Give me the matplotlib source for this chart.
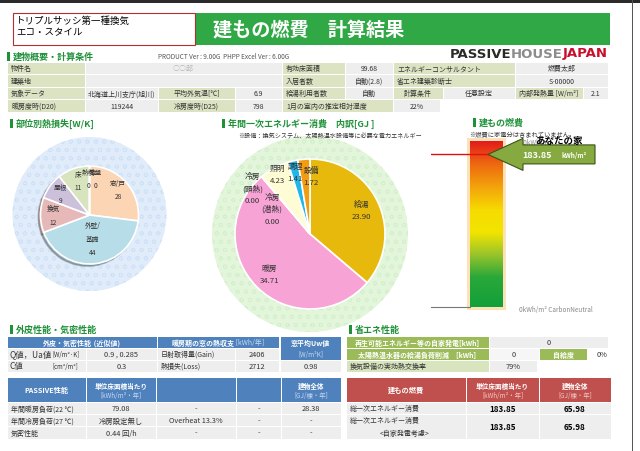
import numpy as np
import matplotlib
matplotlib.use('Agg')
import matplotlib.pyplot as plt
from matplotlib.patches import Rectangle, Circle, Polygon
from matplotlib.colors import LinearSegmentedColormap

plt.rcParams['font.family'] = ['Noto Sans CJK JP', 'DejaVu Sans']
plt.rcParams['hatch.linewidth'] = 0.6

# ---------------- data ----------------
title_left = ['トリプルサッシ第一種換気', 'エコ・スタイル']
title = '建もの燃費　計算結果'
version = 'PRODUCT Ver : 9.00G  PHPP Excel Ver : 6.00G'

info_texts = [
    ['物件名', '○○邸', '有効床面積', '99.68', 'エネルギーコンサルタント', '燃費太郎'],
    ['建築地', '', '入居者数', '自動(2.8)', '省エネ建築診断士', 'S-00000'],
    ['気象データ', '北海道上川支庁(旭川)', '平均外気温[℃]', '6.9', '給湯利用者数', '自動',
     '計算条件', '任意設定', '内部発熱量 [W/m²]', '2.1'],
    ['暖房度時(D20)', '119244', '冷房度時(D25)', '798', '1月の室内の推定相対湿度', '22%'],
]

loss_labels = ['窓/戸', '外壁/\n基礎', '換気', '屋根', '床', '熱橋', '地盤']
loss_values = [28, 44, 12, 9, 11, 0, 0]

energy_labels = ['給湯', '暖房', '冷房\n(潜熱)', '冷房\n(顕熱)', '照明', '調理', '設備']
energy_values = [23.90, 34.71, 0.00, 0.00, 4.23, 1.41, 1.72]

fuel_value = 183.85
gauge_max = 200

envelope_rows = [
    ['Q値，Ua値', '[W/m²·K]', '0.9 , 0.285', '日射取得量(Gain)', '2406'],
    ['C値', '[cm²/m²]', '0.3', '熱損失(Loss)', '2712'],
]
uw_value = '0.98'

passive_header = [('PASSIVE性能', ''), ('単位床面積当たり', '[kWh/m²・年]'), ('', ''), ('', ''),
                  ('建物全体', '[GJ/棟・年]')]
passive_rows = [
    ['年間暖房負荷(22 ℃)', '79.08', '-', '-', '28.38'],
    ['年間冷房負荷(27 ℃)', '冷房設定無し', 'Overheat 13.3%', '-', '-'],
    ['気密性能', '0.44 回/h', '-', '-', '-'],
]

saving_labels = ['再生可能エネルギー等の自家発電[kWh]', '太陽熱温水器の給湯負荷削減　[kWh]', '換気設備の実効熱交換率']
saving_values = ['0', '0', '79%']
self_rate = ('自給度', '0%')

fuel_header = [('建もの燃費', ''), ('単位床面積当たり', '[kWh/m²・年]'), ('建物全体', '[GJ/棟・年]')]
fuel_rows = [
    ['総一次エネルギー消費', '183.85', '65.98'],
    ['総一次エネルギー消費', '183.85', '65.98'],
]

# ---------------- colours ----------------
GREEN = '#2fa845'
HEAD_GREEN = '#1f9138'
LABEL = '#dce3c3'
VALUE = '#eeeeee'
BLUE = '#4f81bd'
RED = '#c0504d'
TXT = '#333333'

W, H = 640, 452
fig = plt.figure(figsize=(6.4, 4.52), dpi=100)
bg = fig.add_axes([0, 0, 1, 1])
bg.set_xlim(0, W)
bg.set_ylim(H, 0)
bg.axis('off')
renderer = fig.canvas.get_renderer()


def px_axes(x0, y0, x1, y1):
    return fig.add_axes([x0 / W, 1 - y1 / H, (x1 - x0) / W, (y1 - y0) / H])


def box(x0, y0, x1, y1, fc, ec='none', lw=0, z=1):
    bg.add_patch(Rectangle((x0, y0), x1 - x0, y1 - y0, facecolor=fc, edgecolor=ec, linewidth=lw, zorder=z))


def txt(x, y, s, size=5, color=TXT, ha='center', va='center', weight='normal', z=5):
    return bg.text(x, y, s, fontsize=size, color=color, ha=ha, va=va, fontweight=weight, zorder=z)


def cell(x0, y0, x1, y1, s, fc, color=TXT, size=5, ha='center', weight='normal'):
    box(x0 + 0.5, y0 + 0.5, x1 - 0.5, y1 - 0.5, fc)
    if s:
        tx = (x0 + x1) / 2 if ha == 'center' else x0 + 4
        txt(tx, (y0 + y1) / 2, s, size, color, ha=ha, weight=weight)


def multi(x, y, parts, ha='center'):
    # parts: (text, size, color, weight) put one after another on one line
    ts = [bg.text(0, y, s, fontsize=sz, color=c, va='center', ha='left', fontweight=wt, zorder=5)
          for s, sz, c, wt in parts]
    ws = [t.get_window_extent(renderer).width for t in ts]
    x0 = x - sum(ws) / 2 if ha == 'center' else x
    for t, w in zip(ts, ws):
        t.set_x(x0)
        x0 += w


def section(x, y, s):
    box(x, y - 4.5, x + 3, y + 4.5, HEAD_GREEN)
    txt(x + 6, y, s, 6.5, HEAD_GREEN, ha='left', weight='bold')


# ---------------- page frame and header ----------------
box(0, 0, W, 4, '#2b2b2b')
box(631.5, 0, 633, H, '#555555')
box(13, 14, 195, 46, 'white', ec='#b03030', lw=0.8, z=2)
txt(16, 21, title_left[0], 6.8, 'black', ha='left')
txt(16, 33, title_left[1], 6.8, 'black', ha='left')
box(195, 14, 610, 46, GREEN)
txt(213, 30, title, 13.8, 'white', ha='left', weight='bold')

t1 = bg.text(608, 54, 'JAPAN', fontsize=9.5, color='#c8102e', ha='right', va='center',
             fontweight='bold', family='DejaVu Sans')
w1 = t1.get_window_extent(renderer).width
t2 = bg.text(608 - w1, 54, 'HOUSE', fontsize=9.5, color='#8c8c8c', ha='right', va='center',
             fontweight='bold', family='DejaVu Sans')
w2 = t2.get_window_extent(renderer).width
bg.text(608 - w1 - w2, 54, 'PASSIVE', fontsize=9.5, color='#2a2a2a', ha='right', va='center',
        fontweight='bold', family='DejaVu Sans')

section(7, 57, '建物概要・計算条件')
txt(158, 57, version, 4.6, '#555555', ha='left', z=5)

# ---------------- info table ----------------
info_rows_y = [63, 75.5, 88, 100.5, 113]
wide = [(7, 85, 'L'), (85, 282, 'V'), (282, 345, 'L'), (345, 393, 'V'), (393, 515, 'L'), (515, 608, 'V')]
info_cols = [
    wide, wide,
    [(7, 85, 'L'), (85, 158, 'V'), (158, 235, 'C'), (235, 282, 'V'), (282, 345, 'L'), (345, 393, 'V'),
     (393, 443, 'C'), (443, 515, 'V'), (515, 583, 'C'), (583, 608, 'V')],
    [(7, 85, 'L'), (85, 158, 'V'), (158, 235, 'C'), (235, 282, 'V'), (282, 393, 'L'), (393, 440, 'V')],
]
for r, (texts, cols) in enumerate(zip(info_texts, info_cols)):
    y0, y1 = info_rows_y[r], info_rows_y[r + 1]
    for s, (x0, x1, kind) in zip(texts, cols):
        fc = VALUE if kind == 'V' else LABEL
        col = '#bbbbbb' if (r == 0 and x0 == 85) else TXT
        cell(x0, y0, x1, y1, s, fc, col, 5, ha='left' if kind == 'L' else 'center')

# ---------------- heat loss pie ----------------
section(10, 124, '部位別熱損失[W/K]')
bg.add_patch(Circle((89.5, 215), 77, facecolor='#e0ecfa', edgecolor='#cfe1f6', hatch='oo', linewidth=0, zorder=1))
cx, cy, r = 89.5, 216, 49
ax1 = px_axes(cx - r, cy - r, cx + r, cy + r)
loss_colors = ['#fcd5b4', '#b7dde8', '#e6b9b8', '#ccc0da', '#d7e4bd', '#d7e4bd', '#d7e4bd']
wedges, texts = ax1.pie(loss_values, labels=[f'{a}\n{b}' for a, b in zip(loss_labels, loss_values)],
                        colors=loss_colors, startangle=90, counterclock=False, labeldistance=0.74,
                        wedgeprops=dict(edgecolor='white', linewidth=1.2),
                        textprops=dict(fontsize=4.8, color=TXT, ha='center', va='center', linespacing=1.9),
                        shadow=dict(ox=-0.03, oy=-0.03, shade=0.5))
loss_r = [1.05, 0.66, 1.0, 1.0, 1.0, 1.0, 1.0]
loss_dx = [0, 0, 0, 0, 0, -0.02, 0.12]
for t, k, dx in zip(texts, loss_r, loss_dx):
    x, y = t.get_position()
    t.set_position((x * k + dx, y * k))
ax1.set_xlim(-1, 1)
ax1.set_ylim(-1, 1)
ax1.axis('off')

# ---------------- energy pie ----------------
section(222, 124, '年間一次エネルギー消費　内訳[GJ ]')
txt(238, 136, '※設備：換気システム、太陽熱温水設備等に必要な電力エネルギー', 4.4, TXT, ha='left')
bg.add_patch(Circle((310, 235), 98, facecolor='#e3f6dc', edgecolor='#d3f0ca', hatch='oo', linewidth=0, zorder=1))
cx, cy, r = 310, 235, 75
ax2 = px_axes(cx - r, cy - r, cx + r, cy + r)
energy_colors = ['#e8b90d', '#f7a3d6', '#fdfcd4', '#fdfcd4', '#fdfcd4', '#22b5e8', '#f39c12']
wedges, texts = ax2.pie(energy_values,
                        labels=[f'{a}\n{b:.2f}' for a, b in zip(energy_labels, energy_values)],
                        colors=energy_colors, startangle=90, counterclock=False, labeldistance=0.76,
                        wedgeprops=dict(edgecolor='white', linewidth=1.2),
                        textprops=dict(fontsize=5.6, color=TXT, ha='center', va='center', linespacing=1.6))
# move the crowded small-slice labels off their mid angle, as the original layout does
energy_r = [1.0, 1.0, 0.8, 1.29, 1.2, 1.12, 1.02]
energy_dtheta = [0, 0, 16, 11, 0, 0, -6]
for t, k, dth in zip(texts, energy_r, energy_dtheta):
    x, y = t.get_position()
    rr = np.hypot(x, y) * k
    th = np.arctan2(y, x) + np.radians(dth)
    t.set_position((rr * np.cos(th), rr * np.sin(th)))
ax2.set_xlim(-1, 1)
ax2.set_ylim(-1, 1)
ax2.axis('off')

# ---------------- fuel gauge ----------------
section(473, 123, '建もの燃費')
txt(469, 135, '※燃費に家電分は含まれていません。', 4.5, TXT, ha='left')
gy0, gy1 = 142, 308
ax3 = px_axes(431, gy0, 610, gy1)
ax3.set_xlim(431, 610)
ax3.set_ylim(0, gauge_max)
ax3.axis('off')
k = (gy1 - gy0) / gauge_max
stops = [(0, '#12a03a'), (0.18, '#2aa83a'), (0.32, '#9cc52a'), (0.45, '#f2e400'), (0.58, '#f6dc00'),
         (0.72, '#f3a50c'), (0.86, '#ee6a10'), (1, '#e31b1b')]
cmap = LinearSegmentedColormap.from_list('fuel', stops)
ax3.add_patch(Rectangle((467, -3 / k), 39, gauge_max + 6 / k, facecolor='#fde2b8', edgecolor='none',
                        clip_on=False, zorder=1))
grad = np.linspace(0, 1, 256).reshape(-1, 1)
ax3.imshow(grad, extent=(470, 503, 0, gauge_max), origin='lower', cmap=cmap, aspect='auto', zorder=2)
ax3.set_xlim(431, 610)
ax3.set_ylim(0, gauge_max)
ax3.plot([431, 470], [0, 0], color='#777777', lw=0.8, zorder=3, clip_on=False)
ax3.plot([431, 490], [fuel_value, fuel_value], color='#e01010', lw=1.0, zorder=3)
top_lbl = ax3.text(517, gauge_max - 1 / k, f'{gauge_max}kWh/m²', fontsize=4.6, color='#888888',
                   ha='left', va='center', zorder=3)
# the top scale label is mostly hidden behind "あなたの家" in the original
top_lbl.set_clip_path(Rectangle((505, gauge_max - 8 / k), 29, 16 / k, transform=ax3.transData))
hh, bh = 16 / k, 9.5 / k
arrow = [(488, fuel_value), (523, fuel_value + hh), (523, fuel_value + bh), (595, fuel_value + bh),
         (595, fuel_value - bh), (523, fuel_value - bh), (523, fuel_value - hh)]
ax3.add_patch(Polygon(arrow, closed=True, facecolor='#86a940', edgecolor='#3b5418', linewidth=0.8,
                      zorder=4, clip_on=False))
ax3.text(522, fuel_value, f'{fuel_value:.2f}', fontsize=6.5, color='white', ha='left', va='center',
         fontweight='bold', zorder=5)
ax3.text(562, fuel_value, 'kWh/m²', fontsize=4.6, color='white', ha='left', va='center',
         fontweight='bold', zorder=5)
ax3.text(535, fuel_value + 14 / k, 'あなたの家', fontsize=6.8, color='black', ha='left', va='center',
         fontweight='bold', zorder=6, clip_on=False)
ax3.text(519, -2 / k, '0kWh/m² CarbonNeutral', fontsize=4.6, color='#888888', ha='left', va='center',
         clip_on=False)

# ---------------- envelope tables ----------------
section(10, 330, '外皮性能・気密性能')
hy = [337, 349, 361, 373]
cell(7, hy[0], 157, hy[1], '', BLUE)
multi(82, (hy[0] + hy[1]) / 2, [('外皮・気密性能', 5, 'white', 'bold'), (' (近似値)', 5, 'white', 'bold')])
cell(157, hy[0], 279, hy[1], '', BLUE)
multi(218, (hy[0] + hy[1]) / 2, [('暖房期の窓の熱収支', 5, 'white', 'bold'), (' [kWh/年]', 5, '#c6d9f1', 'normal')])
cell(280, hy[0], 341, hy[2], '', BLUE)
txt(310.5, 343, '窓平均Uw値', 5, 'white', weight='bold')
txt(310.5, 355, '[W/m²K]', 4.6, '#c6d9f1')
env_cols = [(7, 86), (86, 157), (157, 235), (235, 279)]
for i, row in enumerate(envelope_rows):
    y0, y1 = hy[i + 1], hy[i + 2]
    cell(7, y0, 86, y1, '', VALUE)
    txt(10, (y0 + y1) / 2, row[0], 6, TXT, ha='left')
    txt(52, (y0 + y1) / 2, row[1], 4.4, TXT, ha='left')
    for s, (x0, x1) in zip(row[2:], env_cols[1:]):
        cell(x0, y0, x1, y1, s, VALUE, TXT, 5.3 if x0 != 157 else 5, ha='center' if x0 != 157 else 'left')
cell(280, hy[2], 341, hy[3], uw_value, VALUE, TXT, 5.3)

py = [378, 403, 415.5, 427.5, 440]
pas_cols = [(7, 86), (86, 156), (156, 236), (236, 281), (281, 341)]
for (main, unit), (x0, x1) in zip(passive_header, pas_cols):
    cell(x0, py[0], x1, py[1], '', BLUE)
    if unit:
        txt((x0 + x1) / 2, 386, main, 4.8, 'white', weight='bold')
        txt((x0 + x1) / 2, 396, unit, 4.6, '#c6d9f1')
    else:
        txt((x0 + x1) / 2, 390.5, main, 5.2, 'white', weight='bold')
for i, row in enumerate(passive_rows):
    for j, (s, (x0, x1)) in enumerate(zip(row, pas_cols)):
        cell(x0, py[i + 1], x1, py[i + 2], s, VALUE, TXT, 5.3 if j else 5, ha='left' if j == 0 else 'center')

# ---------------- energy saving tables ----------------
section(349, 330, '省エネ性能')
sy = [337, 349, 361, 373]
cell(346, sy[0], 489, sy[1], saving_labels[0], '#9bbb59', 'white', 5, weight='bold')
cell(489, sy[0], 608, sy[1], saving_values[0], VALUE, TXT, 5.3)
cell(346, sy[1], 489, sy[2], saving_labels[1], '#9bbb59', 'white', 5, weight='bold')
cell(489, sy[1], 539, sy[2], saving_values[1], '#f6f6f6', TXT, 5.3)
cell(539, sy[1], 587, sy[2], self_rate[0], '#9bbb59', 'white', 5, weight='bold')
txt(602, (sy[1] + sy[2]) / 2, self_rate[1], 5.3, TXT)
cell(346, sy[2], 489, sy[3], saving_labels[2], '#d7e4bd', TXT, 5, ha='left')
cell(489, sy[2], 537, sy[3], saving_values[2], VALUE, TXT, 5.3)

fy = [378, 403, 415.5, 440.5]
fuel_cols = [(346, 466), (466, 539), (539, 611)]
for (main, unit), (x0, x1) in zip(fuel_header, fuel_cols):
    cell(x0, fy[0], x1, fy[1], '', RED)
    if unit:
        txt((x0 + x1) / 2, 386, main, 4.8, 'white', weight='bold')
        txt((x0 + x1) / 2, 396, unit, 4.6, '#f3c7c6')
    else:
        txt((x0 + x1) / 2, 390.5, main, 5.2, 'white', weight='bold')
for i, row in enumerate(fuel_rows):
    y0, y1 = fy[i + 1], fy[i + 2]
    cell(346, y0, 466, y1, '', VALUE)
    if i == 0:
        txt(350, (y0 + y1) / 2, row[0], 5, TXT, ha='left')
    else:
        txt(350, y0 + 5.5, row[0], 5, TXT, ha='left')
        txt(405, y0 + 18, '<自家発電考慮>', 5, TXT)
    cell(466, y0, 539, y1, row[1], VALUE, 'black', 5.8, weight='bold')
    cell(539, y0, 611, y1, row[2], VALUE, 'black', 5.8, weight='bold')

fig.savefig('out.png', dpi=100)
